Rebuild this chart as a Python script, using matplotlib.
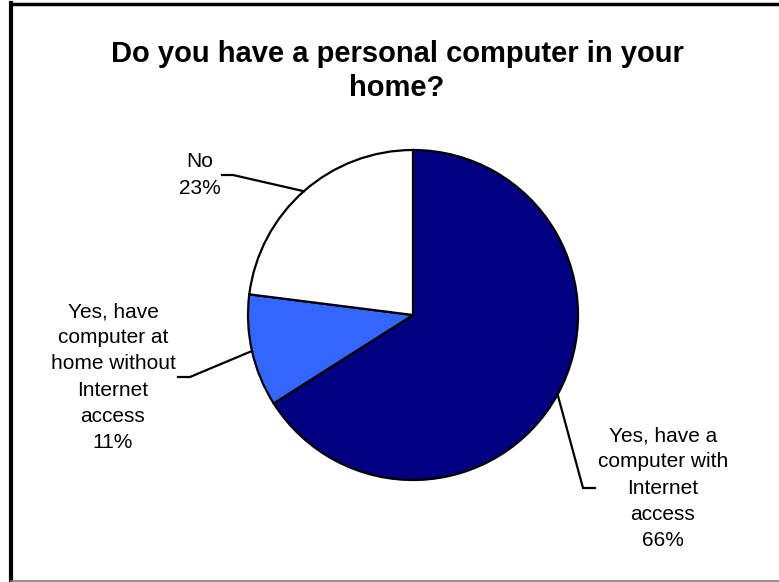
import numpy as np
import matplotlib.pyplot as plt
from matplotlib.lines import Line2D

plt.rcParams['font.family'] = ['Liberation Sans', 'DejaVu Sans']

labels = ['Yes, have a\ncomputer with\nInternet\naccess',
          'Yes, have\ncomputer at\nhome without\nInternet\naccess',
          'No']
values = [66, 11, 23]
colors = ['#000080', '#3366FF', '#FFFFFF']

W, H = 779, 582
fig = plt.figure(figsize=(W / 100, H / 100), dpi=100)
ax = fig.add_axes([0, 0, 1, 1])
ax.set_xlim(0, W)
ax.set_ylim(0, H)
ax.set_aspect('equal')
ax.axis('off')

# pixel coords measured from the top, flipped for the axes
def py(y):
    return H - y

cx, cy, r = 413, py(315), 165
wedges, _ = ax.pie(values, colors=colors, startangle=90, counterclock=False,
                   center=(cx, cy), radius=r,
                   wedgeprops=dict(edgecolor='black', linewidth=1.6))
ax.set_xlim(0, W)
ax.set_ylim(0, H)

# label centres and where the leader line bends
text_pos = [(663, py(488)), (113, py(377)), (200, py(175))]
knees = [(583, 595), (190, 178), (233, 222)]

for w, lab, v, (tx, ty), (kx, hx) in zip(wedges, labels, values, text_pos, knees):
    mid = np.deg2rad((w.theta1 + w.theta2) / 2)
    ex, ey = cx + r * np.cos(mid), cy + r * np.sin(mid)
    ax.plot([ex, kx, hx], [ey, ty, ty], color='black', lw=1.6,
            solid_joinstyle='miter')
    ax.text(tx, ty, f'{lab}\n{v}%', ha='center', va='center',
            fontsize=15, linespacing=1.47)

fig.text(397 / W, 1 - 71 / H, 'Do you have a personal computer in your\nhome?',
         ha='center', va='center', fontsize=21, fontweight='bold',
         linespacing=1.3)

# frame round the figure
fig.add_artist(Line2D([11 / W, 1], [1 - 3.5 / H, 1 - 3.5 / H], color='black', lw=2.5))
fig.add_artist(Line2D([11 / W, 11 / W], [0, 1 - 2.5 / H], color='black', lw=3))
fig.add_artist(Line2D([11 / W, 1], [1.5 / H, 1.5 / H], color='#808080', lw=1.2))

fig.savefig('out.png', dpi=100)
